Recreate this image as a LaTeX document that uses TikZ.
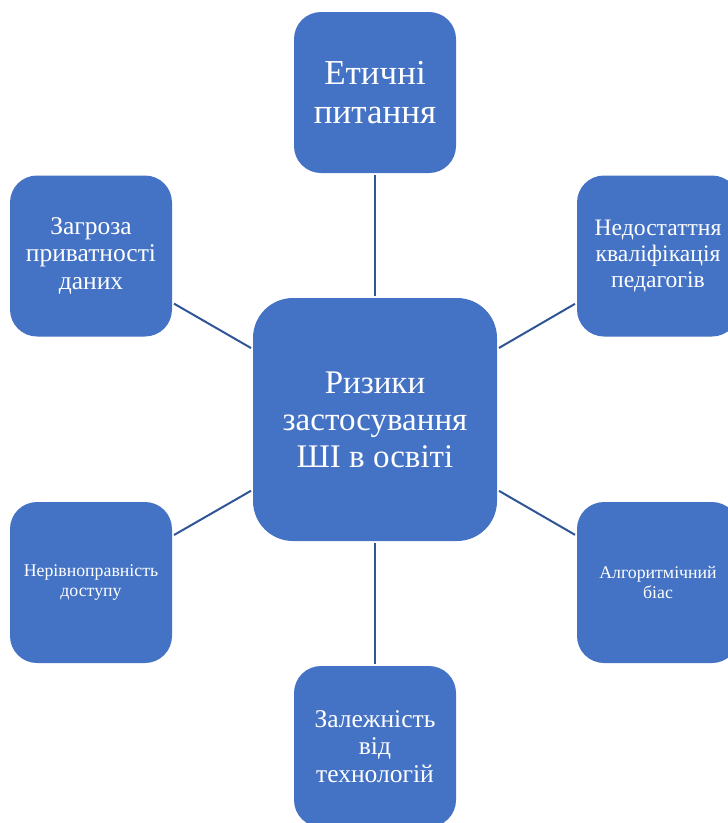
\documentclass[tikz,border=0pt]{standalone}
\usepackage{fontspec}
\setmainfont{Liberation Serif}
\definecolor{boxblue}{HTML}{4472C4}
\definecolor{linkblue}{HTML}{2F5597}
\begin{document}
\begin{tikzpicture}[x=1pt,y=-1pt,
  riskbox/.style={fill=boxblue, text=white, align=center, inner sep=0pt,
    minimum width=162pt, minimum height=161pt, rounded corners=27pt, outer sep=2pt},
  hubbox/.style={riskbox, minimum width=244pt, minimum height=243pt, rounded corners=40pt},
  link/.style={draw=linkblue, line width=2pt}]
  \useasboundingbox (0,0) rectangle (728,823);
  \clip (0,0) rectangle (728,823);
  % central topic
  \node[hubbox, font=\fontsize{33}{37}\selectfont] (hub) at (375,419.5)
    {Ризики\\застосування\\ШІ в освіті};
  % surrounding risks
  \node[riskbox, font=\fontsize{35}{39}\selectfont] (ethics) at (375,92.5)
    {Етичні\\питання};
  \node[riskbox, font=\fontsize{23.6}{25.8}\selectfont] (staff) at (658,256)
    {Недостаттня\\кваліфікація\\педагогів};
  \node[riskbox, font=\fontsize{17.8}{19.5}\selectfont] (bias) at (658,582.5)
    {Алгоритмічний\\біас};
  \node[riskbox, font=\fontsize{25.5}{27.5}\selectfont] (depend) at (375,746.5)
    {Залежність\\від\\технологій};
  \node[riskbox, font=\fontsize{17.8}{19.5}\selectfont] (access) at (91,582.5)
    {Нерівноправність\\доступу};
  \node[riskbox, font=\fontsize{25.5}{27.5}\selectfont] (privacy) at (91,256)
    {Загроза\\приватності\\даних};
  % spokes
  \foreach \n in {ethics,staff,bias,depend,access,privacy}
    \draw[link] (hub) -- (\n);
\end{tikzpicture}
\end{document}
